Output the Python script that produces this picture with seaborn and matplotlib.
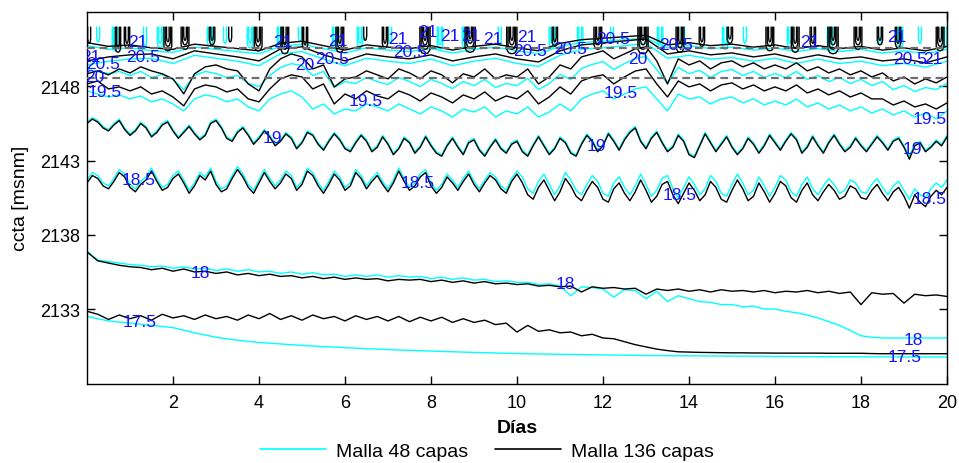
import numpy as np
import pandas as pd
import matplotlib
matplotlib.use("Agg")
import matplotlib.pyplot as plt
import seaborn as sns
from matplotlib.lines import Line2D

# ---------------- data (cota [msnm] of each isotherm, sampled uniformly over 0..20 days) -------------
# 17.5 C isotherm
c_175 = [2132.50, 2132.20, 2132.05, 2131.90, 2131.75, 2131.40, 2131.10, 2130.90, 2130.75, 2130.65,
         2130.55, 2130.47, 2130.40, 2130.33, 2130.27, 2130.22, 2130.17, 2130.12, 2130.08, 2130.04,
         2130.00, 2129.97, 2129.95, 2129.93, 2129.91, 2129.89, 2129.87, 2129.86, 2129.85, 2129.84,
         2129.83, 2129.82, 2129.81, 2129.80, 2129.79, 2129.79, 2129.78, 2129.78, 2129.77, 2129.77, 2129.77]
b_175 = [2132.85, 2132.65, 2132.30, 2132.60, 2132.35, 2132.55, 2132.25, 2132.65, 2132.40, 2132.55,
         2132.30, 2132.60, 2132.35, 2132.50, 2132.25, 2132.60, 2132.35, 2132.70, 2132.30, 2132.55,
         2132.25, 2132.60, 2132.35, 2132.50, 2132.20, 2132.55, 2132.30, 2132.50, 2132.20, 2132.50,
         2132.15, 2132.45, 2132.20, 2132.45, 2132.10, 2132.35,
         2132.10, 2132.25, 2131.95, 2132.05, 2131.45, 2131.90, 2131.50, 2131.60, 2131.40, 2131.45,
         2131.20, 2131.30, 2131.05, 2131.00, 2130.80, 2130.60, 2130.45, 2130.30, 2130.20, 2130.12,
         2130.10, 2130.08, 2130.07, 2130.06, 2130.05, 2130.05, 2130.04, 2130.04, 2130.03, 2130.03,
         2130.03, 2130.03, 2130.03, 2130.02, 2130.02, 2130.02, 2130.02, 2130.00, 2129.99, 2129.99,
         2129.99, 2129.99, 2129.99, 2129.99, 2129.99]
# 18 C isotherm
c_18 = [2136.90, 2136.30, 2136.20, 2136.10, 2136.00, 2135.95, 2135.85, 2135.90, 2135.75, 2135.85,
        2135.70, 2135.75, 2135.60, 2135.70, 2135.55, 2135.65, 2135.50, 2135.55, 2135.40, 2135.50,
        2135.35, 2135.45, 2135.30, 2135.35, 2135.20, 2135.30, 2135.20, 2135.30, 2135.15, 2135.25,
        2135.15, 2135.20, 2135.05, 2135.15, 2135.00, 2135.10, 2134.95, 2135.00, 2134.85, 2134.90,
        2134.80, 2134.80, 2134.65, 2134.70, 2134.55, 2133.90, 2134.50, 2134.45, 2134.35, 2133.80,
        2134.30, 2134.25, 2133.70, 2134.20, 2133.50, 2133.90, 2133.70, 2133.50, 2133.45, 2133.30,
        2133.30, 2133.15, 2133.20, 2133.00, 2133.00, 2132.85, 2132.75, 2132.60, 2132.40, 2132.15,
        2131.90, 2131.55, 2131.20, 2131.10, 2131.05, 2131.05, 2131.05, 2131.05, 2131.05, 2131.05, 2131.05]
b_18 = [2136.85, 2136.25, 2136.10, 2135.95, 2135.85, 2135.80, 2135.65, 2135.75, 2135.55, 2135.70,
        2135.50, 2135.55, 2135.40, 2135.50, 2135.30, 2135.40, 2135.25, 2135.35, 2135.20, 2135.25,
        2135.10, 2135.20, 2135.05, 2135.15, 2135.00, 2135.10, 2135.00, 2135.05, 2134.90, 2135.00,
        2134.95, 2135.00, 2134.85, 2134.95, 2134.80, 2134.90, 2134.75, 2134.85, 2134.70, 2134.75,
        2134.65, 2134.70, 2134.55, 2134.60, 2134.50, 2134.55, 2134.15, 2134.50, 2134.40, 2134.45,
        2134.35, 2134.40, 2134.00, 2134.35, 2134.25, 2134.35, 2134.20, 2134.30, 2134.15, 2134.30,
        2134.20, 2134.25, 2134.15, 2134.25, 2134.10, 2134.20, 2134.15, 2134.25, 2134.10, 2134.20,
        2134.05, 2134.15, 2133.30, 2134.10, 2134.00, 2134.05, 2133.40, 2134.00, 2133.90, 2133.95, 2133.85]
# 18.5 C isotherm (every 1/8 day)
b_185 = [2141.5, 2142.0, 2141.8, 2141.3, 2141.1, 2141.6, 2142.2, 2141.9, 2141.2,
         2140.9, 2141.4, 2141.7, 2142.3, 2141.6, 2141.0, 2141.2, 2141.8,
         2142.1, 2141.5, 2140.8, 2141.3, 2142.0, 2141.7, 2142.3, 2141.4,
         2140.9, 2141.1, 2141.8, 2142.4, 2141.9, 2141.2, 2140.8, 2141.5,
         2142.2, 2141.6, 2141.1, 2141.5, 2142.1, 2141.8, 2141.0, 2141.4,
         2142.3, 2142.0, 2141.3, 2140.8, 2141.4, 2142.1, 2141.7, 2141.0,
         2141.3, 2142.2, 2141.8, 2141.1, 2141.6, 2142.0, 2141.4, 2140.9,
         2141.5, 2142.3, 2141.6, 2141.0, 2141.3, 2141.9, 2142.2, 2141.3,
         2140.8, 2141.2, 2141.9, 2141.5, 2141.0, 2141.6, 2142.1, 2141.4,
         2140.9, 2141.5, 2142.0, 2141.7, 2141.1, 2140.8, 2141.6, 2142.1,
         2141.5, 2140.7, 2140.4, 2141.2, 2141.7, 2141.0, 2140.3, 2140.9,
         2141.8, 2141.3, 2140.6, 2140.3, 2141.0, 2141.6, 2141.2, 2140.4,
         2140.2, 2141.1, 2141.5, 2140.8, 2140.3, 2140.9, 2141.7, 2141.0,
         2140.2, 2140.6, 2141.4, 2141.6, 2140.7, 2140.1, 2140.8, 2141.5,
         2141.0, 2140.3, 2140.7, 2141.6, 2141.2, 2140.4, 2140.2, 2141.0,
         2141.7, 2141.1, 2140.3, 2140.6, 2141.5, 2140.9, 2140.2, 2140.8,
         2141.6, 2141.3, 2140.5, 2140.2, 2141.0, 2141.5, 2140.7, 2140.3,
         2140.9, 2141.4, 2141.0, 2140.4, 2140.6, 2141.3, 2141.1, 2140.5,
         2140.4, 2141.0, 2141.4, 2140.8, 2140.3, 2140.9, 2141.2, 2140.6,
         2139.8, 2140.7, 2140.2, 2139.9, 2140.6, 2141.0, 2140.7, 2141.2]
c_185 = [2141.7, 2142.2, 2142.0, 2141.5, 2141.3, 2141.8, 2142.4, 2142.1, 2141.4,
         2141.1, 2141.6, 2141.9, 2142.5, 2141.8, 2141.2, 2141.4, 2142.0,
         2142.3, 2141.7, 2141.0, 2141.5, 2142.2, 2141.9, 2142.5, 2141.6,
         2141.1, 2141.3, 2142.0, 2142.6, 2142.1, 2141.4, 2141.0, 2141.7,
         2142.4, 2141.8, 2141.3, 2141.7, 2142.3, 2142.0, 2141.2, 2141.6,
         2142.5, 2142.2, 2141.5, 2141.0, 2141.6, 2142.3, 2141.9, 2141.2,
         2141.5, 2142.4, 2142.0, 2141.3, 2141.8, 2142.2, 2141.6, 2141.1,
         2141.7, 2142.5, 2141.8, 2141.2, 2141.5, 2142.1, 2142.4, 2141.5,
         2141.0, 2141.4, 2142.1, 2141.7, 2141.2, 2141.8, 2142.3, 2141.6,
         2141.1, 2141.7, 2142.2, 2141.9, 2141.3, 2141.0, 2141.8, 2142.3,
         2141.9, 2141.1, 2140.8, 2141.6, 2142.1, 2141.4, 2140.7, 2141.3,
         2142.2, 2141.7, 2141.0, 2140.7, 2141.4, 2142.0, 2141.6, 2140.8,
         2140.6, 2141.5, 2141.9, 2141.2, 2140.7, 2141.3, 2142.1, 2141.4,
         2140.6, 2141.0, 2141.8, 2142.0, 2141.1, 2140.5, 2141.2, 2141.9,
         2141.4, 2140.7, 2141.1, 2142.0, 2141.6, 2140.8, 2140.6, 2141.4,
         2142.1, 2141.5, 2140.7, 2141.0, 2141.9, 2141.3, 2140.6, 2141.2,
         2142.0, 2141.7, 2140.9, 2140.6, 2141.4, 2141.9, 2141.1, 2140.7,
         2141.3, 2141.8, 2141.4, 2140.8, 2141.0, 2141.7, 2141.5, 2140.9,
         2140.8, 2141.4, 2141.8, 2141.2, 2140.7, 2141.3, 2141.6, 2141.0,
         2140.4, 2141.1, 2140.7, 2140.5, 2141.1, 2141.5, 2141.2, 2141.7]
# 19 C isotherm (every 1/8 day)
b_19 = [2145.5, 2145.8, 2145.6, 2145.2, 2145.0, 2145.4, 2145.7, 2145.1, 2144.7,
        2145.0, 2145.5, 2145.2, 2144.6, 2144.9, 2145.4, 2145.6, 2145.0,
        2144.5, 2144.9, 2145.3, 2144.8, 2144.4, 2144.7, 2145.5, 2145.7,
        2145.2, 2144.5, 2144.3, 2144.9, 2145.2, 2144.7, 2144.1, 2144.5,
        2145.0, 2144.6, 2144.0, 2144.3, 2144.8, 2144.5, 2143.8, 2144.2,
        2144.9, 2144.7, 2144.1, 2143.7, 2144.3, 2144.8, 2144.4, 2143.8,
        2143.6, 2144.2, 2144.7, 2144.3, 2143.6, 2143.9, 2144.6, 2144.1,
        2143.4, 2143.8, 2144.5, 2144.2, 2143.5, 2143.9, 2144.6, 2144.0,
        2143.5, 2143.3, 2144.0, 2144.5, 2143.9, 2143.4, 2144.2, 2144.4,
        2143.7, 2143.3, 2143.9, 2144.4, 2143.8, 2143.5, 2144.1, 2144.3,
        2143.6, 2143.3, 2144.0, 2144.6, 2144.0, 2143.4, 2143.8, 2144.5,
        2144.2, 2143.5, 2143.3, 2144.1, 2144.7, 2144.3, 2143.6, 2144.0,
        2144.8, 2144.3, 2143.7, 2144.4, 2144.9, 2145.2, 2144.3, 2143.8,
        2144.5, 2144.9, 2144.2, 2143.6, 2143.9, 2144.7, 2144.3, 2143.4,
        2143.2, 2144.0, 2144.8, 2144.2, 2143.6, 2144.1, 2144.6, 2143.9,
        2143.4, 2143.8, 2144.5, 2144.1, 2143.5, 2144.0, 2144.7, 2144.2,
        2143.7, 2144.3, 2144.8, 2144.4, 2143.5, 2143.9, 2144.6, 2144.0,
        2143.5, 2144.2, 2144.7, 2144.1, 2143.6, 2143.9, 2144.5, 2144.0,
        2143.6, 2144.1, 2144.6, 2144.2, 2143.7, 2144.3, 2144.5, 2143.9,
        2143.1, 2144.0, 2144.2, 2143.6, 2143.9, 2144.3, 2144.0, 2144.6]
c_19 = [2145.6, 2145.9, 2145.7, 2145.3, 2145.1, 2145.5, 2145.8, 2145.2, 2144.8,
        2145.1, 2145.6, 2145.3, 2144.7, 2145.0, 2145.5, 2145.7, 2145.1,
        2144.6, 2145.0, 2145.4, 2144.9, 2144.5, 2144.8, 2145.6, 2145.8,
        2145.3, 2144.6, 2144.4, 2145.0, 2145.3, 2144.8, 2144.2, 2144.6,
        2145.1, 2144.7, 2144.1, 2144.4, 2144.9, 2144.6, 2143.9, 2144.3,
        2145.0, 2144.8, 2144.2, 2143.8, 2144.4, 2144.9, 2144.5, 2143.9,
        2143.7, 2144.3, 2144.8, 2144.4, 2143.7, 2144.0, 2144.7, 2144.2,
        2143.5, 2143.9, 2144.6, 2144.3, 2143.6, 2144.0, 2144.7, 2144.1,
        2143.6, 2143.4, 2144.1, 2144.6, 2144.0, 2143.5, 2144.3, 2144.5,
        2143.8, 2143.4, 2144.0, 2144.5, 2143.9, 2143.6, 2144.2, 2144.4,
        2143.7, 2143.4, 2144.1, 2144.7, 2144.1, 2143.5, 2143.9, 2144.6,
        2144.3, 2143.6, 2143.4, 2144.2, 2144.8, 2144.4, 2143.7, 2144.1,
        2144.9, 2144.4, 2143.8, 2144.5, 2145.0, 2145.3, 2144.4, 2143.9,
        2144.6, 2145.0, 2144.3, 2143.7, 2144.0, 2144.8, 2144.4, 2143.5,
        2143.3, 2144.1, 2144.9, 2144.3, 2143.7, 2144.2, 2144.7, 2144.0,
        2143.5, 2143.9, 2144.6, 2144.2, 2143.6, 2144.1, 2144.8, 2144.3,
        2143.8, 2144.4, 2144.9, 2144.5, 2143.6, 2144.0, 2144.7, 2144.1,
        2143.6, 2144.3, 2144.8, 2144.2, 2143.7, 2144.0, 2144.6, 2144.1,
        2143.7, 2144.2, 2144.7, 2144.3, 2143.8, 2144.4, 2144.6, 2144.0,
        2143.3, 2144.1, 2144.3, 2143.7, 2144.0, 2144.4, 2144.1, 2144.7]
# 19.5 C isotherm
c_195 = [2147.70, 2147.49, 2147.29, 2147.43, 2147.16, 2147.36, 2146.96, 2147.16, 2146.82, 2146.35,
         2147.16, 2147.43, 2147.29, 2146.96, 2147.16, 2146.62, 2146.35, 2147.16, 2147.49, 2147.70,
         2147.29, 2146.48, 2146.82, 2146.15, 2146.48, 2146.35, 2146.82, 2146.62, 2146.35, 2146.82,
         2146.48, 2146.15, 2146.62, 2146.35, 2145.94, 2146.48, 2146.28, 2146.62, 2145.94, 2146.35,
         2146.15, 2146.62, 2145.94, 2146.28, 2146.82, 2146.35, 2147.16, 2147.49, 2147.70, 2147.16,
         2147.49, 2147.83, 2147.97, 2147.16, 2146.35, 2147.49, 2147.16, 2147.29, 2146.82, 2147.16,
         2147.29, 2146.89, 2147.16, 2146.75, 2147.02, 2146.75, 2147.16, 2146.62, 2146.89, 2146.48,
         2146.75, 2146.35, 2146.62, 2146.21, 2146.48, 2146.08, 2146.35, 2145.94, 2146.21, 2145.81, 2146.35]
b_195 = [2148.17, 2148.37, 2147.83, 2147.97, 2147.70, 2147.97, 2147.49, 2147.70, 2147.29, 2146.69,
         2147.83, 2148.10, 2147.97, 2147.63, 2147.83, 2147.16, 2146.96, 2147.83,
         2148.51, 2148.78, 2148.64, 2147.83, 2148.17, 2146.82, 2147.49, 2147.16,
         2147.70, 2147.36, 2147.16, 2147.70, 2147.43, 2147.02, 2147.56, 2147.29,
         2146.89, 2147.43, 2147.16, 2147.63, 2147.02, 2147.36, 2147.16, 2147.70,
         2146.82, 2147.29, 2147.97, 2147.49, 2148.37, 2148.64, 2148.78, 2148.17,
         2148.64, 2149.04, 2149.18, 2148.17, 2147.29, 2148.37, 2147.97, 2148.17,
         2147.70, 2148.10, 2148.24, 2147.83, 2148.10, 2147.70, 2147.97, 2147.70,
         2148.10, 2147.56, 2147.83, 2147.43, 2147.70, 2147.29, 2147.56, 2147.16,
         2147.16, 2146.75, 2147.02, 2146.62, 2146.82, 2146.48, 2146.89]
# 20 C isotherm
c_20 = [2149.14, 2149.01, 2148.87, 2149.01, 2148.74, 2149.01, 2148.60, 2148.81, 2148.47, 2147.79,
        2148.74, 2149.01, 2148.87, 2148.60, 2148.74, 2148.20, 2147.99, 2148.74, 2149.28, 2149.54,
        2149.41, 2148.74, 2149.01, 2147.93, 2148.33, 2148.20, 2148.60, 2148.33, 2148.13, 2148.60,
        2148.33, 2147.99, 2148.47, 2148.20, 2147.86, 2148.33, 2148.06, 2148.47, 2147.93, 2148.20,
        2148.06, 2148.54, 2147.79, 2148.20, 2148.81, 2148.47, 2149.21, 2149.48, 2149.68, 2149.14,
        2149.54, 2149.88, 2150.02, 2149.14, 2148.20, 2149.28, 2148.87, 2149.08, 2148.60, 2149.01,
        2149.14, 2148.74, 2149.01, 2148.60, 2148.87, 2148.60, 2149.01, 2148.47, 2148.74, 2148.33,
        2148.60, 2148.20, 2148.47, 2148.06, 2148.33, 2147.79, 2148.06, 2147.66, 2147.93, 2147.79, 2148.20]
b_20 = [2148.85, 2149.05, 2148.78, 2149.18, 2148.91, 2149.32, 2149.05, 2148.85, 2148.51, 2147.50,
        2148.85, 2149.32, 2149.45, 2149.18, 2149.05, 2148.17, 2147.70, 2149.18, 2149.86, 2150.19,
        2149.99, 2149.18, 2149.45, 2147.97, 2148.51, 2148.64, 2149.05, 2148.78, 2148.51, 2149.18,
        2148.91, 2148.51, 2149.05, 2148.78, 2148.24, 2148.85, 2148.64, 2149.18, 2148.51, 2148.78,
        2148.64, 2149.18, 2148.17, 2148.64, 2149.45, 2149.18, 2149.99, 2150.19, 2150.40, 2149.86,
        2150.19, 2150.53, 2150.67, 2149.72, 2148.17, 2149.86, 2149.45, 2149.72, 2149.18, 2149.59,
        2149.72, 2149.32, 2149.59, 2149.18, 2149.45, 2149.18, 2149.59, 2149.05, 2149.32, 2148.91,
        2149.18, 2148.78, 2149.05, 2148.64, 2148.91, 2148.37, 2148.64, 2148.17, 2148.51, 2148.24, 2148.64]
# 20.5 C isotherm
b_205 = [2149.72, 2149.99, 2150.13, 2150.19, 2149.86, 2150.40, 2150.19, 2149.99, 2149.72, 2150.53,
         2150.67, 2150.13, 2149.72, 2150.19, 2149.99, 2149.86, 2150.13, 2149.72, 2149.99, 2150.19,
         2149.86, 2149.65, 2150.40, 2150.80, 2150.93, 2151.07, 2151.20, 2150.19, 2150.40, 2150.13,
         2150.26, 2149.99, 2150.19, 2149.86, 2150.13, 2149.86, 2149.99, 2149.72, 2149.86, 2149.59, 2149.99]
c_205 = [2149.45, 2149.70, 2149.85, 2149.90, 2149.55, 2150.10, 2149.90, 2149.70, 2149.40, 2150.20,
         2150.35, 2149.85, 2149.40, 2149.90, 2149.70, 2149.55, 2149.85, 2149.40, 2149.70, 2149.90,
         2149.55, 2149.35, 2150.10, 2150.50, 2150.60, 2150.75, 2150.90, 2149.90, 2150.10, 2149.85,
         2149.95, 2149.70, 2149.90, 2149.55, 2149.85, 2149.55, 2149.70, 2149.40, 2149.55, 2149.30, 2149.70]
# 21 C isotherm
b_21 = [2150.95, 2150.70, 2150.80, 2150.60, 2150.50, 2150.85, 2150.70, 2150.55, 2150.40, 2150.90,
        2151.05, 2150.75, 2150.45, 2150.80, 2150.65, 2150.55, 2150.75, 2150.45, 2150.70, 2150.85,
        2150.60, 2150.40, 2150.90, 2151.15, 2151.25, 2151.35, 2151.45, 2150.80, 2150.95, 2150.75,
        2150.85, 2150.65, 2150.80, 2150.55, 2150.75, 2150.55, 2150.70, 2150.45, 2150.60, 2150.40, 2150.70]
c_21 = [2150.75, 2150.50, 2150.60, 2150.40, 2150.30, 2150.65, 2150.50, 2150.35, 2150.20, 2150.70,
        2150.85, 2150.55, 2150.25, 2150.60, 2150.45, 2150.35, 2150.55, 2150.25, 2150.50, 2150.65,
        2150.40, 2150.20, 2150.70, 2150.95, 2151.05, 2151.15, 2151.25, 2150.60, 2150.75, 2150.55,
        2150.65, 2150.45, 2150.60, 2150.35, 2150.55, 2150.35, 2150.50, 2150.25, 2150.40, 2150.20, 2150.50]

# warm-surface closed isotherms (day, lowest cota, number of nested isotherms)
b_loop_day = [0.05, 0.72, 0.93, 1.88, 2.28, 2.91, 3.33, 3.98, 4.60, 5.07, 5.88, 6.47, 6.93, 7.86, 8.91,
              9.88, 10.88, 11.88, 12.93, 13.79, 14.30, 14.95, 15.88, 16.47, 16.88, 17.35, 17.93, 18.44, 18.86, 19.84]
b_loop_low = [2150.9, 2150.3, 2150.6, 2150.4, 2150.5, 2150.8, 2151.0, 2150.4, 2150.2, 2150.5, 2150.3, 2151.1,
              2150.6, 2150.2, 2150.3, 2150.2, 2150.7, 2150.5, 2150.2, 2150.3, 2150.7, 2150.9, 2150.4, 2150.3,
              2150.6, 2150.2, 2150.5, 2150.8, 2150.6, 2150.4]
b_loop_n = [1, 2, 2, 3, 3, 2, 1, 3, 3, 2, 3, 1, 2, 4, 4, 4, 2, 3, 4, 3, 2, 2, 3, 3, 2, 4, 3, 2, 2, 3]
c_loop_day = [0.26, 0.65, 1.35, 1.70, 2.86, 3.21, 3.79, 4.49, 4.95, 5.77, 6.35, 7.05, 8.21, 8.79, 9.60,
              10.81, 11.47, 12.21, 13.33, 13.86, 14.84, 15.30, 16.35, 17.28, 18.44, 18.91, 19.37, 19.95]
c_loop_low = [2151.0, 2150.4, 2150.7, 2150.6, 2150.7, 2150.9, 2150.6, 2150.5, 2151.0, 2150.5, 2150.6, 2150.9,
              2150.5, 2150.6, 2150.8, 2150.6, 2150.7, 2151.0, 2150.6, 2150.8, 2150.5, 2150.9, 2150.6, 2150.5,
              2150.8, 2150.6, 2150.9, 2150.6]
c_loop_n = [1, 2, 1, 2, 2, 1, 2, 2, 1, 2, 2, 1, 2, 2, 1, 2, 2, 1, 2, 1, 2, 1, 2, 2, 1, 2, 1, 1]
surface_cota = 2152.0

# reference levels (dashed)
ref_levels = [2150.57, 2148.55]

# isotherm labels
lab_text = ["17.5", "17.5", "18", "18", "18", "18.5", "18.5", "18.5", "18.5", "19", "19", "19",
            "19.5", "19.5", "19.5", "19.5", "20", "20", "20",
            "20.5", "20.5", "20.5", "20.5", "20.5", "20.5", "20.5", "20.5", "20.5",
            "21", "21", "21", "21", "21", "21", "21", "21", "21", "21", "21", "21", "21"]
lab_day = [1.23, 19.02, 2.63, 11.12, 19.21, 1.19, 7.70, 13.79, 19.60, 4.30, 11.84, 19.19,
           0.42, 6.47, 12.40, 19.60, 0.19, 5.07, 12.81,
           0.37, 1.30, 5.70, 7.51, 10.30, 11.23, 12.23, 13.70, 19.14,
           0.10, 1.19, 4.56, 5.84, 7.23, 7.93, 8.44, 8.93, 9.44, 10.23, 16.81, 18.84, 19.67]
lab_cota = [2132.13, 2129.77, 2135.43, 2134.69, 2130.98, 2141.70, 2141.56, 2140.69, 2140.42, 2144.53, 2143.99, 2143.79,
            2147.63, 2147.02, 2147.56, 2145.81, 2148.64, 2149.45, 2149.85,
            2149.52, 2149.99, 2149.85, 2150.33, 2150.39, 2150.53, 2151.20, 2150.86, 2149.85,
            2149.99, 2151.00, 2151.00, 2151.07, 2151.20, 2151.67, 2151.40, 2151.40, 2151.20, 2151.34,
            2151.00, 2151.34, 2149.85]

series_48 = {"17.5": c_175, "18": c_18, "18.5": c_185, "19": c_19, "19.5": c_195,
             "20": c_20, "20.5": c_205, "21": c_21}
series_136 = {"17.5": b_175, "18": b_18, "18.5": b_185, "19": b_19, "19.5": b_195,
              "20": b_20, "20.5": b_205, "21": b_21}


def long_table(series, loop_day, loop_low, loop_n, tag):
    rows = []
    for name, vals in series.items():
        xs = np.linspace(0, 20, len(vals))
        for x, y in zip(xs, vals):
            rows.append((f"{tag}_{name}", x, y))
    # closed surface isotherms drawn as nested U shapes
    for i, (d, low, n) in enumerate(zip(loop_day, loop_low, loop_n)):
        w0 = 0.035 + 0.028 * (n - 1)
        for k in range(n):
            w = w0 * (n - k) / n
            b = low + 0.3 * k
            shape_x = [d - w, d - w, d - 0.6 * w, d, d + 0.6 * w, d + w, d + w]
            shape_y = [surface_cota, b + 0.3, b + 0.06, b, b + 0.06, b + 0.3, surface_cota]
            for x, y in zip(shape_x, shape_y):
                rows.append((f"{tag}_loop{i}_{k}", x, y))
    return pd.DataFrame(rows, columns=["linea", "dia", "cota"])


df48 = long_table(series_48, c_loop_day, c_loop_low, c_loop_n, "m48")
df136 = long_table(series_136, b_loop_day, b_loop_low, b_loop_n, "m136")

# ---------------- plot ----------------
sns.set_theme(style="ticks")
plt.rcParams['font.family'] = ['Liberation Sans', 'DejaVu Sans']
plt.rcParams['text.color'] = 'black'
plt.rcParams['axes.labelcolor'] = 'black'
plt.rcParams['xtick.color'] = 'black'
plt.rcParams['ytick.color'] = 'black'

fig = plt.figure(figsize=(9.59, 4.64), dpi=100)
ax = fig.add_axes([87 / 959, 79 / 464, 860 / 959, 372.5 / 464])

cyan = "#00FFFF"
sns.lineplot(data=df48, x="dia", y="cota", units="linea", estimator=None, sort=False,
             color=cyan, lw=1.0, ax=ax, legend=False)
sns.lineplot(data=df136, x="dia", y="cota", units="linea", estimator=None, sort=False,
             color="black", lw=1.0, ax=ax, legend=False)

for lv in ref_levels:
    ax.axhline(lv, color="#6e6e6e", ls=(0, (3.5, 2.2)), lw=1.6, zorder=5)

for t, d, v in zip(lab_text, lab_day, lab_cota):
    ax.text(d, v, t, color="#1414ff", fontsize=12.5, ha="center", va="center",
            zorder=6, clip_on=True)

ax.set_xlim(0, 20)
ax.set_ylim(2127.95, 2153.05)
ax.set_xticks([2, 4, 6, 8, 10, 12, 14, 16, 18, 20])
ax.set_yticks([2133, 2138, 2143, 2148])
ax.tick_params(direction="in", top=True, right=True, length=6, width=1,
               labelsize=13, colors="black")
ax.tick_params(axis="x", pad=7)
ax.tick_params(axis="y", pad=5)
for s in ax.spines.values():
    s.set_color("black")
    s.set_linewidth(1.0)

ax.set_xlabel("Días", fontsize=14, fontweight="bold", labelpad=6, color="black")
ax.set_ylabel("ccta [msnm]", fontsize=14, labelpad=8, color="black")

handles = [Line2D([], [], color=cyan, lw=1.2), Line2D([], [], color="black", lw=1.2)]
fig.legend(handles, ["Malla 48 capas", "Malla 136 capas"], loc="center",
           bbox_to_anchor=(487 / 959, 1 - 452 / 464), ncol=2, frameon=False, fontsize=14,
           handlelength=3.4, handletextpad=0.5, columnspacing=1.4, labelcolor="black")

fig.savefig("out.png", dpi=100)
